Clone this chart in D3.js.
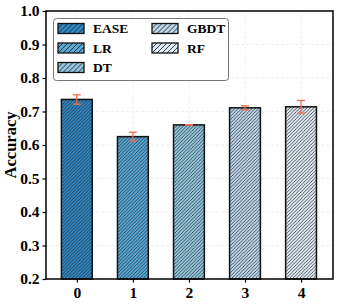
<!DOCTYPE html>
<html>
<head>
<meta charset="utf-8">
<script src="https://cdn.jsdelivr.net/npm/d3@7"></script>
<style>
  body { margin: 0; background: #fff; }
  text { font-family: "Liberation Serif", "Times New Roman", serif; font-weight: bold; }
</style>
</head>
<body>
<div id="chart"></div>
<script>
// data
const models = ["EASE", "LR", "DT", "GBDT", "RF"]
const positions = [0, 1, 2, 3, 4]
const accuracy = [0.736, 0.625, 0.660, 0.711, 0.714]
const errors = [0.014, 0.013, 0.001, 0.006, 0.019]
const colors = ["#3088c4", "#58a8d8", "#92c6df", "#bcd6ec", "#e0eaf5"]
const yTicks = [0.2, 0.3, 0.4, 0.5, 0.6, 0.7, 0.8, 0.9, 1.0]

const W = 338, H = 305
const margin = { left: 46, right: 5, top: 11, bottom: 26 }

const svg = d3.select("#chart").append("svg")
  .attr("width", W)
  .attr("height", H)

// 斜线填充
const defs = svg.append("defs")
function hatch(id, color, size, sw) {
  const p = defs.append("pattern")
    .attr("id", id)
    .attr("patternUnits", "userSpaceOnUse")
    .attr("width", size)
    .attr("height", size)
  p.append("rect").attr("width", size).attr("height", size).attr("fill", color)
  p.append("path")
    .attr("d", `M${-size / 2},${size / 2} L${size / 2},${-size / 2} M0,${size} L${size},0 M${size / 2},${size * 1.5} L${size * 1.5},${size / 2}`)
    .attr("stroke", "#222")
    .attr("stroke-width", sw)
}
colors.forEach((c, i) => {
  hatch("bar" + i, c, 3.4, 0.75)
  hatch("leg" + i, c, 5, 0.9)
})

const x = d3.scaleLinear()
  .domain([-0.55, 4.57])
  .range([margin.left, W - margin.right])

const y = d3.scaleLinear()
  .domain([0.2, 1.0])
  .range([H - margin.bottom, margin.top])

const barW = x(0.55) - x(0)

const g = svg.append("g")

// grid
g.append("g").selectAll("line")
  .data(yTicks)
  .join("line")
  .attr("x1", x.range()[0]).attr("x2", x.range()[1])
  .attr("y1", d => y(d)).attr("y2", d => y(d))
  .attr("stroke", "#e4e4e4")
  .attr("stroke-dasharray", "3,2")
  .attr("stroke-width", 0.6)
g.append("g").selectAll("line")
  .data(positions)
  .join("line")
  .attr("x1", d => x(d)).attr("x2", d => x(d))
  .attr("y1", y.range()[0]).attr("y2", y.range()[1])
  .attr("stroke", "#e4e4e4")
  .attr("stroke-dasharray", "3,2")
  .attr("stroke-width", 0.6)

// bars
g.append("g").selectAll("rect")
  .data(positions)
  .join("rect")
  .attr("x", d => x(d) - barW / 2)
  .attr("y", (d, i) => y(accuracy[i]))
  .attr("width", barW)
  .attr("height", (d, i) => y(0.2) - y(accuracy[i]))
  .attr("fill", (d, i) => `url(#bar${i})`)
  .attr("stroke", "#111")
  .attr("stroke-width", 1.5)

// error bars
const eb = g.append("g")
  .attr("stroke", "#f26d4f")
  .attr("stroke-width", 1.3)
positions.forEach((p, i) => {
  const lo = y(accuracy[i] - errors[i]), hi = y(accuracy[i] + errors[i])
  eb.append("line").attr("x1", x(p)).attr("x2", x(p)).attr("y1", lo).attr("y2", hi)
  eb.append("line").attr("x1", x(p) - 4).attr("x2", x(p) + 4).attr("y1", lo).attr("y2", lo)
  eb.append("line").attr("x1", x(p) - 4).attr("x2", x(p) + 4).attr("y1", hi).attr("y2", hi)
})

// frame
g.append("rect")
  .attr("x", x.range()[0])
  .attr("y", y.range()[1])
  .attr("width", x.range()[1] - x.range()[0])
  .attr("height", y.range()[0] - y.range()[1])
  .attr("fill", "none")
  .attr("stroke", "#000")
  .attr("stroke-width", 1.5)

// axes
const yAxis = svg.append("g")
  .attr("transform", `translate(${margin.left},0)`)
  .call(d3.axisLeft(y).tickValues(yTicks).tickFormat(d3.format(".1f")).tickSize(3.5).tickPadding(3))
const xAxis = svg.append("g")
  .attr("transform", `translate(0,${H - margin.bottom})`)
  .call(d3.axisBottom(x).tickValues(positions).tickFormat(d3.format("d")).tickSize(3.5).tickPadding(4))
;[xAxis, yAxis].forEach(a => {
  a.select(".domain").remove()
  a.selectAll("line").attr("stroke", "#000").attr("stroke-width", 1.2)
  a.selectAll("text")
    .attr("fill", "#000")
    .style("font-size", "15.5px")
    .style("font-family", "'Liberation Serif', serif")
    .style("font-weight", "bold")
})

svg.append("text")
  .attr("transform", `translate(16,${(y.range()[0] + y.range()[1]) / 2}) rotate(-90)`)
  .attr("text-anchor", "middle")
  .style("font-size", "16.5px")
  .text("Accuracy")

// legend
const legend = svg.append("g")
legend.append("rect")
  .attr("x", 53.5).attr("y", 18.5)
  .attr("width", 175).attr("height", 62)
  .attr("rx", 3)
  .attr("fill", "#fff")
  .attr("fill-opacity", 0.85)
  .attr("stroke", "#777")
  .attr("stroke-width", 1)
const item = legend.selectAll("g.item")
  .data(models)
  .join("g")
  .attr("class", "item")
  .attr("transform", (d, i) => `translate(${i < 3 ? 58 : 152},${23.5 + (i % 3) * 19.5})`)
item.append("rect")
  .attr("width", 26).attr("height", 10)
  .attr("fill", (d, i) => `url(#leg${i})`)
  .attr("stroke", "#111")
  .attr("stroke-width", 1.3)
item.append("text")
  .attr("x", 35)
  .attr("y", 5)
  .attr("dy", "0.35em")
  .style("font-size", "13.5px")
  .text(d => d)
</script>
</body>
</html>
